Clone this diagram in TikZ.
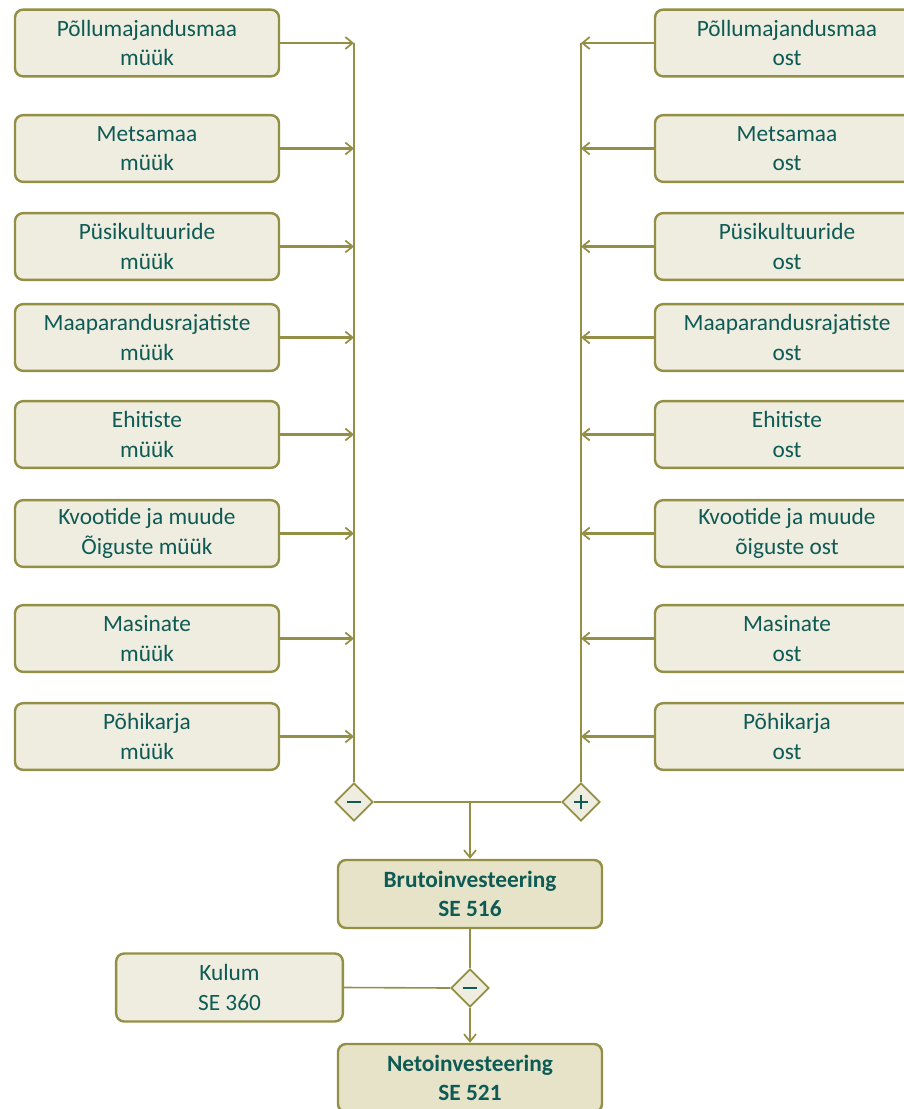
\documentclass[tikz,border=0pt]{standalone}
\usepackage{fontspec}
\setmainfont{Carlito}
\usetikzlibrary{arrows.meta,shapes.geometric}
\definecolor{olive}{RGB}{147,143,69}
\definecolor{boxfill}{RGB}{239,237,224}
\definecolor{boxdark}{RGB}{230,227,201}
\definecolor{txt}{RGB}{14,90,84}
\tikzset{
  box/.style={draw=olive, line width=1.8pt, fill=boxfill, rounded corners=6pt,
    minimum width=198pt, minimum height=50pt, align=center, text=txt,
    font=\fontsize{17.5}{22}\selectfont, inner sep=0pt},
  kbox/.style={box, minimum width=170pt, minimum height=51pt},
  bbox/.style={box, fill=boxdark, minimum width=198pt, minimum height=51pt, font=\fontsize{17.5}{22}\selectfont\bfseries},
  conn/.style={draw=olive, line width=1.6pt},
  thin/.style={draw=olive, line width=1.2pt},
  arr/.style={conn, -{Straight Barb[length=5.5pt,width=9pt,line width=1.3pt]}},
  sign/.style={diamond, draw=olive, line width=1.4pt, fill=boxfill, minimum width=28.5pt, minimum height=28.5pt, inner sep=0pt},
  signline/.style={draw=txt, line width=2.2pt},
}
\begin{document}
\begin{tikzpicture}[x=0.75pt,y=-0.75pt]
\useasboundingbox (0,0) rectangle (903,1109);
% left boxes
\node[box] (L1) at (147,43) {Põllumajandusmaa\\müük};
\node[box] (L2) at (147,148.5) {Metsamaa\\müük};
\node[box] (L3) at (147,246.5) {Püsikultuuride\\müük};
\node[box] (L4) at (147,337.5) {Maaparandusrajatiste\\müük};
\node[box] (L5) at (147,434.5) {Ehitiste\\müük};
\node[box] (L6) at (147,533.5) {Kvootide ja muude\\Õiguste müük};
\node[box] (L7) at (147,638.5) {Masinate\\müük};
\node[box] (L8) at (147,736.5) {Põhikarja\\müük};
% right boxes
\node[box] (R1) at (787,43) {Põllumajandusmaa\\ost};
\node[box] (R2) at (787,148.5) {Metsamaa\\ost};
\node[box] (R3) at (787,246.5) {Püsikultuuride\\ost};
\node[box] (R4) at (787,337.5) {Maaparandusrajatiste\\ost};
\node[box] (R5) at (787,434.5) {Ehitiste\\ost};
\node[box] (R6) at (787,533.5) {Kvootide ja muude\\õiguste ost};
\node[box] (R7) at (787,638.5) {Masinate\\ost};
\node[box] (R8) at (787,736.5) {Põhikarja\\ost};
% signs
\node[sign] (mn) at (354,802) {};
\node[sign] (pl) at (581,802) {};
\coordinate (lt) at (354,43);
\coordinate (rt) at (581,43);
\coordinate (mid) at (470,802);
\node[bbox] (bruto) at (470,894) {Brutoinvesteering\\SE 516};
\node[sign] (mn2) at (470,988) {};
\node[kbox] (kulum) at (229.5,987.5) {Kulum\\SE 360};
\node[bbox] (neto) at (470,1078) {Netoinvesteering\\SE 521};
% sign glyphs
\draw[signline] ([xshift=-5.6pt]mn.center) -- ([xshift=5.6pt]mn.center);
\draw[signline] ([xshift=-5.6pt]pl.center) -- ([xshift=5.6pt]pl.center);
\draw[signline] ([yshift=-5.6pt]pl.center) -- ([yshift=5.6pt]pl.center);
\draw[signline] ([xshift=-5.6pt]mn2.center) -- ([xshift=5.6pt]mn2.center);
% trunks
\draw[conn] (lt) -- (mn.north);
\draw[conn] (rt) -- (pl.north);
\draw[conn] (mn.east) -- (pl.west);
% arrows
\foreach \i in {1,...,8}{
  \draw[arr] (L\i.east) -- (L\i.east -| lt);
  \draw[arr] (R\i.west) -- (R\i.west -| rt);
}
\draw[arr] (mid) -- (bruto.north);
\draw[thin] (bruto.south) -- (mn2.north);
\draw[thin] (kulum.east) -- (mn2.west);
\draw[arr] (mn2.south) -- (neto.north);
\end{tikzpicture}
\end{document}
